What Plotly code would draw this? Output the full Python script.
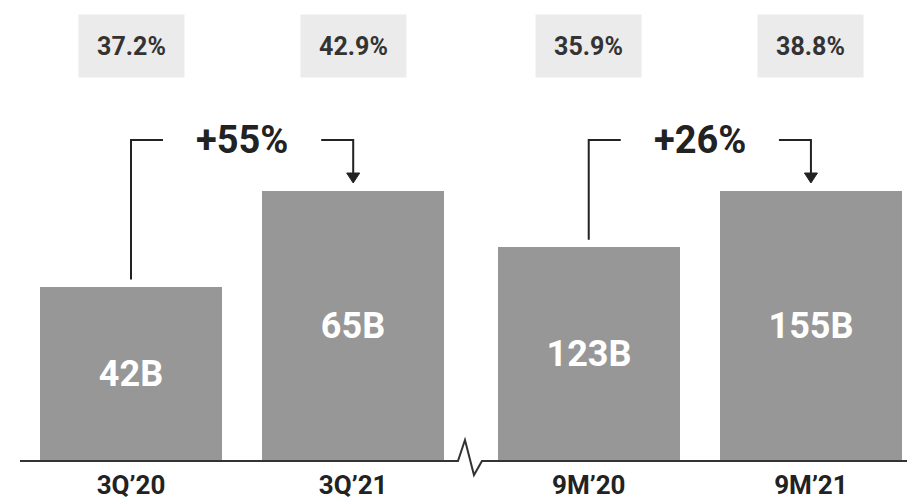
import plotly.graph_objects as go

# ---- data ----
periods = ["3Q’20", "3Q’21", "9M’20", "9M’21"]
revenue_b = [42, 65, 123, 155]          # revenue, billions
margin_pct = [37.2, 42.9, 35.9, 38.8]   # margin shown above each bar
growth_pct = [55, 26]                   # year-over-year growth per pair

# ---- layout constants ----
W, H = 907, 501
PLOT_H = 461                 # plot area height (bottom margin holds the labels)
x_pos = [0, 1, 2.06, 3.06]   # bar centres; the two pairs sit either side of a break
BAR_W = 0.82
PX = 222.2                   # pixels per x unit
X0 = -131 / PX
X1 = (W - 131) / PX
FILL = 0.5857                # share of plot height the tallest bar of each pair uses

FONT = "Roboto"
INK = "#222222"
BAR_COLOR = "#979797"

top_left = max(revenue_b[:2]) / FILL
top_right = max(revenue_b[2:]) / FILL


def px_to_paper(py):
    """pixel row (from the top of the page) -> paper y of the plot area"""
    return (PLOT_H - py) / PLOT_H


fig = go.Figure()

for idx, yax in ((slice(0, 2), "y"), (slice(2, 4), "y2")):
    fig.add_trace(go.Bar(
        x=x_pos[idx], y=revenue_b[idx], width=BAR_W, yaxis=yax,
        marker=dict(color=BAR_COLOR, line=dict(width=0)),
        texttemplate="%{y}B", textposition="inside", insidetextanchor="middle",
        textangle=0,
        textfont=dict(family=FONT, size=36, color="white", weight=700),
        hoverinfo="skip", showlegend=False,
    ))

shapes = []
annotations = []

# margin boxes above every bar
for xp, m in zip(x_pos, margin_pct):
    annotations.append(dict(
        x=xp, xref="x", y=px_to_paper(46), yref="paper",
        text=f"{m:.1f}%", showarrow=False,
        width=103, height=60, borderpad=1, bgcolor="#ebebeb",
        font=dict(family=FONT, size=25, color="#333333", weight=700),
        xanchor="center", yanchor="middle",
    ))

# growth brackets: line up from the earlier bar, across, and an arrow down
LEVEL = px_to_paper(140)
TIP = px_to_paper(183)
HEAD = 10 / PLOT_H           # arrowhead length (paper)
HALF = 6.5 / PX              # arrowhead half width (x units)
STUB = 32 / PX               # horizontal stub length (x units)
GAP = 7 / PLOT_H             # gap between bracket and bar top
for (i, j), g, top in (((0, 1), growth_pct[0], top_left),
                       ((2, 3), growth_pct[1], top_right)):
    xa, xb = x_pos[i], x_pos[j]
    start = revenue_b[i] / top + GAP
    line = dict(color=INK, width=2)
    # left riser and stub
    shapes.append(dict(type="path", xref="x", yref="paper", line=line,
                       path=f"M{xa},{start} L{xa},{LEVEL} L{xa + STUB},{LEVEL}"))
    # right stub and drop
    shapes.append(dict(type="path", xref="x", yref="paper", line=line,
                       path=f"M{xb - STUB},{LEVEL} L{xb},{LEVEL} L{xb},{TIP + HEAD}"))
    # arrowhead
    shapes.append(dict(type="path", xref="x", yref="paper",
                       fillcolor=INK, line=dict(color=INK, width=1),
                       path=f"M{xb - HALF},{TIP + HEAD} L{xb + HALF},{TIP + HEAD} L{xb},{TIP} Z"))
    annotations.append(dict(
        x=(xa + xb) / 2, xref="x", y=LEVEL, yref="paper",
        text=f"+{g}%", showarrow=False,
        font=dict(family=FONT, size=38, color=INK, weight=700),
        xanchor="center", yanchor="middle",
    ))

# baseline with a break mark between the two pairs
mid = (x_pos[1] + x_pos[2]) / 2
zig = [(-13, 0), (-6, 21), (3, -14), (11, 0)]
zig_path = " ".join(f"L{mid + dx / PX},{dy / PLOT_H}" for dx, dy in zig)
shapes.append(dict(
    type="path", xref="x", yref="paper",
    line=dict(color="#333333", width=2),
    path=f"M{(20 - 131) / PX},0 {zig_path} L{X1},0",
))

fig.update_layout(
    width=W, height=H,
    margin=dict(l=0, r=0, t=0, b=H - PLOT_H, pad=0),
    paper_bgcolor="white", plot_bgcolor="white",
    bargap=0,
    xaxis=dict(
        range=[X0, X1], tickvals=x_pos, ticktext=periods,
        showgrid=False, zeroline=False, showline=False, ticks="",
        tickfont=dict(family=FONT, size=26, color=INK, weight=700),
        ticklabelstandoff=6, fixedrange=True,
    ),
    yaxis=dict(range=[0, top_left], visible=False, fixedrange=True),
    yaxis2=dict(range=[0, top_right], visible=False, overlaying="y",
                fixedrange=True),
    shapes=shapes, annotations=annotations,
)

fig.write_html("out.html")
